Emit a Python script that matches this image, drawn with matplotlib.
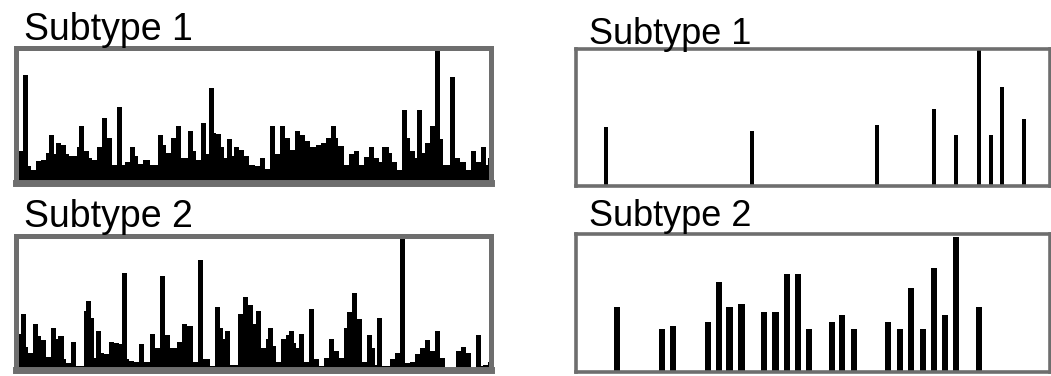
import numpy as np
import matplotlib
matplotlib.use("Agg")
import matplotlib.pyplot as plt

plt.rcParams["font.family"] = ["Liberation Sans", "DejaVu Sans"]

# left column: dense profiles (relative height per bin)
left_sub1 = [0.31, 0.23, 0.23, 0.80, 0.80, 0.12, 0.09, 0.09, 0.16, 0.16,
             0.17, 0.17, 0.22, 0.35, 0.35, 0.21, 0.29, 0.29, 0.28, 0.28,
             0.21, 0.20, 0.20, 0.20, 0.26, 0.42, 0.42, 0.23, 0.23, 0.18,
             0.17, 0.17, 0.26, 0.26, 0.48, 0.48, 0.33, 0.33, 0.13, 0.13,
             0.56, 0.56, 0.13, 0.15, 0.15, 0.26, 0.26, 0.20, 0.14, 0.14,
             0.17, 0.17, 0.17, 0.13, 0.13, 0.13, 0.35, 0.35, 0.28, 0.22,
             0.22, 0.33, 0.33, 0.42, 0.42, 0.18, 0.18, 0.18, 0.38, 0.38,
             0.23, 0.17, 0.17, 0.44, 0.44, 0.21, 0.70, 0.70, 0.37, 0.36,
             0.36, 0.26, 0.18, 0.32, 0.32, 0.20, 0.26, 0.26, 0.24, 0.24,
             0.20, 0.20, 0.13, 0.13, 0.12, 0.12, 0.18, 0.18, 0.10, 0.10,
             0.42, 0.42, 0.21, 0.21, 0.42, 0.42, 0.33, 0.33, 0.24, 0.24,
             0.38, 0.38, 0.35, 0.35, 0.31, 0.31, 0.26, 0.26, 0.28, 0.28,
             0.29, 0.29, 0.33, 0.33, 0.42, 0.42, 0.33, 0.27, 0.27, 0.13,
             0.13, 0.21, 0.21, 0.23, 0.23, 0.13, 0.13, 0.19, 0.19, 0.26,
             0.26, 0.18, 0.18, 0.15, 0.26, 0.26, 0.26, 0.22, 0.15, 0.15,
             0.09, 0.09, 0.54, 0.54, 0.33, 0.23, 0.23, 0.18, 0.54, 0.54,
             0.22, 0.29, 0.29, 0.42, 0.42, 1.00, 1.00, 0.32, 0.13, 0.13,
             0.13, 0.78, 0.78, 0.18, 0.18, 0.15, 0.15, 0.09, 0.09, 0.23,
             0.23, 0.15, 0.15, 0.26, 0.26, 0.13, 0.18]

left_sub2 = [0.13, 0.27, 0.42, 0.42, 0.17, 0.13, 0.13, 0.34, 0.34, 0.25,
             0.22, 0.22, 0.10, 0.10, 0.31, 0.31, 0.23, 0.25, 0.25, 0.08,
             0.05, 0.05, 0.21, 0.21, 0.03, 0.03, 0.03, 0.44, 0.51, 0.51,
             0.39, 0.09, 0.29, 0.29, 0.13, 0.12, 0.12, 0.21, 0.21, 0.20,
             0.20, 0.19, 0.72, 0.72, 0.08, 0.07, 0.07, 0.06, 0.06, 0.19,
             0.19, 0.06, 0.06, 0.27, 0.27, 0.16, 0.16, 0.70, 0.70, 0.26,
             0.26, 0.16, 0.16, 0.16, 0.21, 0.21, 0.34, 0.34, 0.33, 0.33,
             0.06, 0.06, 0.82, 0.82, 0.08, 0.08, 0.08, 0.03, 0.03, 0.47,
             0.47, 0.31, 0.23, 0.29, 0.29, 0.04, 0.04, 0.04, 0.42, 0.42,
             0.54, 0.54, 0.48, 0.48, 0.34, 0.44, 0.44, 0.16, 0.16, 0.23,
             0.31, 0.31, 0.18, 0.06, 0.06, 0.23, 0.23, 0.26, 0.29, 0.29,
             0.20, 0.16, 0.27, 0.27, 0.06, 0.06, 0.45, 0.45, 0.08, 0.08,
             0.03, 0.03, 0.09, 0.09, 0.23, 0.23, 0.14, 0.14, 0.09, 0.09,
             0.31, 0.43, 0.43, 0.57, 0.57, 0.38, 0.38, 0.06, 0.06, 0.26,
             0.26, 0.16, 0.04, 0.39, 0.39, 0.03, 0.03, 0.03, 0.08, 0.08,
             0.13, 0.13, 1.00, 1.00, 0.05, 0.05, 0.06, 0.06, 0.12, 0.12,
             0.16, 0.16, 0.22, 0.22, 0.14, 0.14, 0.29, 0.29, 0.09, 0.09,
             0.01, 0.01, 0.01, 0.01, 0.14, 0.14, 0.17, 0.17, 0.13, 0.13,
             0.01, 0.01, 0.26, 0.26, 0.03, 0.04, 0.04, 0.06]

# right column: sparse peaks (position on 0-100 scale, relative height)
right_sub1_pos = [6.3, 37.2, 63.6, 75.5, 80.2, 85.0, 87.5, 89.8, 94.6]
right_sub1_val = [0.43, 0.40, 0.44, 0.56, 0.37, 1.00, 0.37, 0.72, 0.49]

right_sub2_pos = [8.6, 18.1, 20.5, 27.8, 30.2, 32.4, 34.9, 39.6, 42.1, 44.6,
                  46.8, 49.1, 54.0, 56.2, 58.7, 65.9, 68.4, 70.6, 73.2, 75.6,
                  77.8, 80.1, 85.0]
right_sub2_val = [0.47, 0.31, 0.33, 0.36, 0.65, 0.47, 0.49, 0.43, 0.43, 0.71,
                  0.71, 0.31, 0.36, 0.41, 0.31, 0.36, 0.31, 0.61, 0.31, 0.75,
                  0.41, 0.98, 0.47]

titles = ["Subtype 1", "Subtype 2"]

W, H = 1051, 376
fig = plt.figure(figsize=(W / 100, H / 100), dpi=100)
frame_col = "#6e6e6e"


def fx(px):
    return px / W


def fy(px):
    return 1 - px / H


def make_ax(x0, y0, x1, y1, lw, bottom_lw=None):
    ax = fig.add_axes([fx(x0), fy(y1), fx(x1 - x0), (y1 - y0) / H])
    ax.set_xticks([])
    ax.set_yticks([])
    for s in ax.spines.values():
        s.set_color(frame_col)
        s.set_linewidth(lw)
    if bottom_lw:
        ax.spines["bottom"].set_linewidth(bottom_lw)
    ax.set_ylim(0, 1)
    return ax


# left panels: filled step profiles
for vals, (y0, y1) in [(left_sub1, (47.5, 182.5)),
                       (left_sub2, (235.5, 370))]:
    ax = make_ax(15.5, y0, 491, y1, 3.6, 5.0)
    n = len(vals)
    ax.stairs(vals, np.arange(n + 1), fill=True, color="black", baseline=0)
    ax.set_xlim(0, n)
    ax.set_ylim(0, 1.0)

fig.text(fx(24), fy(40), titles[0], fontsize=27, va="baseline")
fig.text(fx(24), fy(227.5), titles[1], fontsize=27, va="baseline")

# right panels
ax = make_ax(576, 49, 1050, 185.5, 2.6)
ax.bar(right_sub1_pos, right_sub1_val, width=0.85, color="black")
ax.set_xlim(0, 100)

ax = make_ax(576, 234, 1050, 371.5, 2.6)
ax.bar(right_sub2_pos, right_sub2_val, width=1.3, color="black")
ax.set_xlim(0, 100)

fig.text(fx(589), fy(43.5), titles[0], fontsize=26, va="baseline")
fig.text(fx(589), fy(226.5), titles[1], fontsize=26, va="baseline")

fig.savefig("out.png", dpi=100)
